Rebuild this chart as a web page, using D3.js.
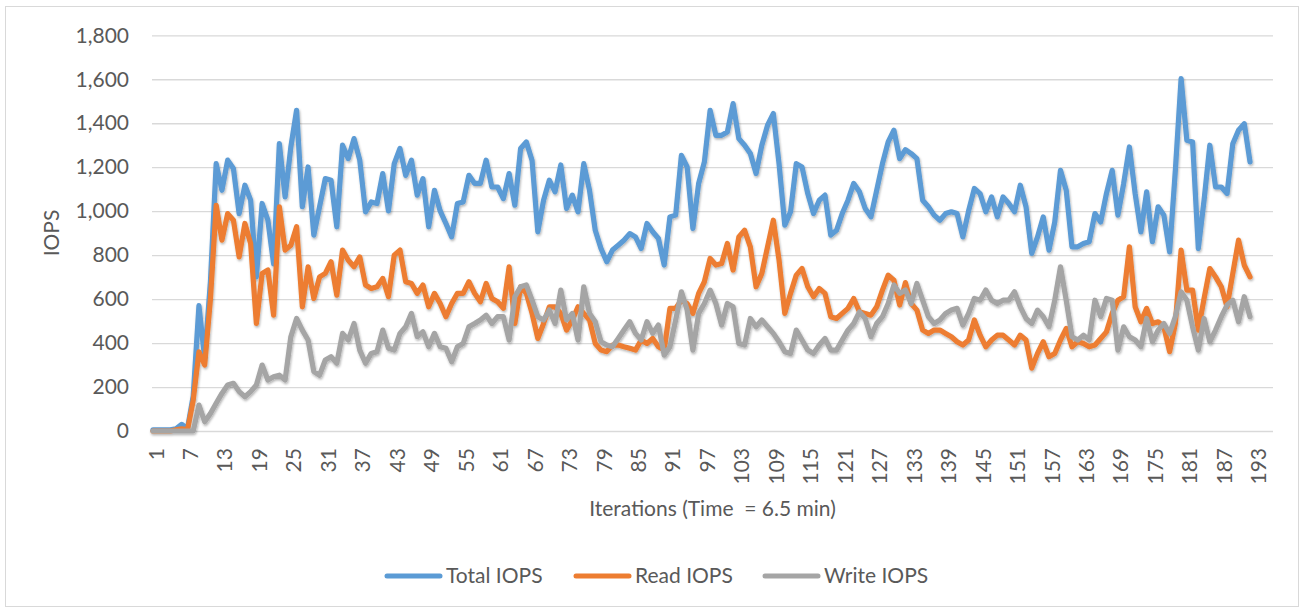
<!DOCTYPE html>
<html>
<head>
<meta charset="utf-8">
<script src="https://cdn.jsdelivr.net/npm/d3@7"></script>
<style>
  html, body { margin: 0; padding: 0; background: #fff; }
  svg { display: block; }
  text { font-family: Lato, "Open Sans", sans-serif; fill: #595959; }
</style>
</head>
<body>
<svg id="chart" width="1303" height="612"></svg>
<script>
// ---- data ----
const axisCategories = d3.range(1, 197);          // category slots on the x axis
const tickLabels = d3.range(1, 194, 6);            // 1, 7, 13, ... 193
const yTicks = [0, 200, 400, 600, 800, 1000, 1200, 1400, 1600, 1800];
const seriesNames = ["Total IOPS", "Read IOPS", "Write IOPS"];
const seriesColors = ["#5B9BD5", "#ED7D31", "#A5A5A5"];

const totalIOPS = [
  5,5,5,5,10,30,10,160,570,330,
  680,1216,1095,1232,1194,989,1118,1050,701,1035,
  959,760,1307,1065,1292,1459,1020,1201,891,1020,
  1148,1141,929,1300,1239,1330,1232,997,1042,1035,
  1171,1001,1216,1285,1163,1232,1073,1148,929,1095,
  1001,944,883,1035,1042,1163,1126,1126,1232,1110,
  1110,1057,1171,1027,1285,1315,1230,906,1050,1141,
  1088,1210,1012,1073,997,1216,1095,913,830,770,
  823,845,868,898,883,830,944,906,876,755,
  974,982,1254,1201,921,1126,1224,1459,1345,1345,
  1360,1489,1330,1300,1262,1171,1300,1391,1444,1216,
  936,997,1216,1201,1080,989,1050,1073,891,913,
  989,1050,1126,1088,1012,974,1095,1216,1315,1368,
  1239,1280,1262,1239,1050,1020,982,959,989,997,
  989,883,1001,1103,1080,997,1065,974,1065,1035,
  997,1118,1020,808,883,974,823,951,1186,1095,
  838,838,853,861,989,951,1080,1186,982,1126,
  1292,1080,906,1088,861,1020,982,815,1186,1603,
  1323,1315,830,1050,1300,1110,1110,1080,1307,1368,
  1398,1224
];
const readIOPS = [
  0,0,0,0,5,10,5,140,360,300,
  600,1027,868,989,959,792,944,853,489,717,
  732,527,1020,823,845,929,565,747,603,701,
  717,770,618,823,777,747,792,664,648,656,
  694,611,800,823,679,671,626,664,565,626,
  580,520,580,626,626,679,626,588,671,603,
  588,558,747,489,656,626,535,421,489,565,
  565,535,459,505,565,535,505,398,368,361,
  391,391,383,376,368,414,398,421,383,368,
  558,558,595,580,535,626,679,785,755,762,
  853,732,883,913,838,656,717,838,959,777,
  535,626,709,739,656,611,648,626,520,512,
  535,558,603,542,535,527,565,641,709,686,
  573,675,580,550,459,444,459,459,444,429,
  406,391,414,505,436,383,414,436,436,414,
  391,436,414,286,353,406,338,353,414,467,
  383,406,398,383,391,421,451,535,595,611,
  838,565,497,558,489,497,474,361,489,823,
  641,641,459,603,739,701,656,565,717,868,
  754,701
];
const writeIOPS = [
  0,0,0,0,0,0,0,0,118,42,
  80,126,171,209,217,179,156,179,209,300,
  232,247,254,232,429,512,459,414,270,254,
  323,338,308,444,414,489,368,308,353,361,
  459,376,368,444,474,535,429,451,383,444,
  383,376,315,383,398,474,489,505,527,489,
  520,520,414,611,656,664,595,520,505,550,
  489,641,505,535,414,656,535,497,406,391,
  383,421,459,497,444,414,497,444,482,345,
  383,505,633,550,368,535,580,641,580,482,
  580,565,398,391,512,474,505,474,444,406,
  361,353,459,414,368,353,391,421,368,368,
  414,459,489,542,512,429,489,520,580,664,
  626,641,580,671,595,520,489,505,535,550,
  558,482,535,603,595,641,595,580,595,595,
  633,565,512,489,550,520,474,595,747,595,
  429,414,436,414,595,520,603,595,368,474,
  429,414,383,512,406,459,489,444,520,633,
  595,474,368,512,406,459,520,573,595,497,
  611,520
];
const allSeries = [totalIOPS, readIOPS, writeIOPS];

// ---- layout ----
const svg = d3.select("#chart");
const plot = { left: 152, right: 1273, top: 35, bottom: 431 };
const fontSize = "21px";

// chart border
svg.append("rect")
  .attr("x", 5.5).attr("y", 6.5).attr("width", 1293).attr("height", 600)
  .attr("fill", "#fff").attr("stroke", "#d9d9d9").attr("stroke-width", 1);

const x = d3.scalePoint().domain(axisCategories).range([plot.left + 1, plot.right]);
const y = d3.scaleLinear().domain([0, 1800]).range([plot.bottom, plot.top + 0.3]);

// shadow filter
const defs = svg.append("defs");
const f = defs.append("filter").attr("id", "shadow")
  .attr("x", "-5%").attr("y", "-5%").attr("width", "110%").attr("height", "115%");
f.append("feDropShadow").attr("dx", 0.8).attr("dy", 1.6)
  .attr("stdDeviation", 1.3).attr("flood-color", "#000").attr("flood-opacity", 0.3);

// gridlines via axis
const yAxis = d3.axisLeft(y).tickValues(yTicks)
  .tickSize(-(plot.right - plot.left))
  .tickFormat(d3.format(","))
  .tickPadding(23);
const gy = svg.append("g").attr("transform", `translate(${plot.left},0)`).call(yAxis);
gy.select(".domain").remove();
gy.selectAll(".tick line").attr("stroke", "#d9d9d9").attr("stroke-width", 1.3);
gy.selectAll(".tick text").style("font-size", fontSize).attr("fill", "#595959");

// x tick labels (rotated)
const xAxis = d3.axisBottom(x).tickValues(tickLabels).tickSize(0).tickPadding(0);
const gx = svg.append("g").attr("transform", `translate(0,${plot.bottom})`).call(xAxis);
gx.select(".domain").remove();
gx.selectAll(".tick text")
  .style("font-size", fontSize)
  .attr("fill", "#595959")
  .attr("text-anchor", "end")
  .attr("dy", null)
  .attr("y", null)
  .attr("dominant-baseline", "central")
  .attr("transform", "translate(1.5,17) rotate(-90)");

// lines
const line = d3.line()
  .x((d, i) => x(axisCategories[i]))
  .y(d => y(d));

const gLines = svg.append("g").attr("filter", "url(#shadow)");
allSeries.forEach((s, k) => {
  gLines.append("path")
    .datum(s)
    .attr("d", line)
    .attr("fill", "none")
    .attr("stroke", seriesColors[k])
    .attr("stroke-width", 5.2)
    .attr("stroke-linejoin", "round")
    .attr("stroke-linecap", "round");
});

// axis titles
svg.append("text")
  .attr("transform", "translate(50,233) rotate(-90)")
  .attr("text-anchor", "middle")
  .attr("dominant-baseline", "central")
  .style("font-size", fontSize)
  .text("IOPS");

svg.append("text")
  .attr("x", (plot.left + plot.right) / 2)
  .attr("y", 516)
  .attr("text-anchor", "middle")
  .style("font-size", fontSize)
  .style("white-space", "pre")
  .attr("xml:space", "preserve")
  .text("Iterations (Time  = 6.5 min)");

// legend
const legendX = [386, 575, 764];
const legend = svg.append("g");
seriesNames.forEach((name, k) => {
  legend.append("line")
    .attr("x1", legendX[k] + 1).attr("x2", legendX[k] + 54)
    .attr("y1", 576).attr("y2", 576)
    .attr("stroke", seriesColors[k]).attr("stroke-width", 5)
    .attr("stroke-linecap", "round");
  legend.append("text")
    .attr("x", legendX[k] + 60).attr("y", 583)
    .style("font-size", fontSize)
    .text(name);
});
</script>
</body>
</html>
